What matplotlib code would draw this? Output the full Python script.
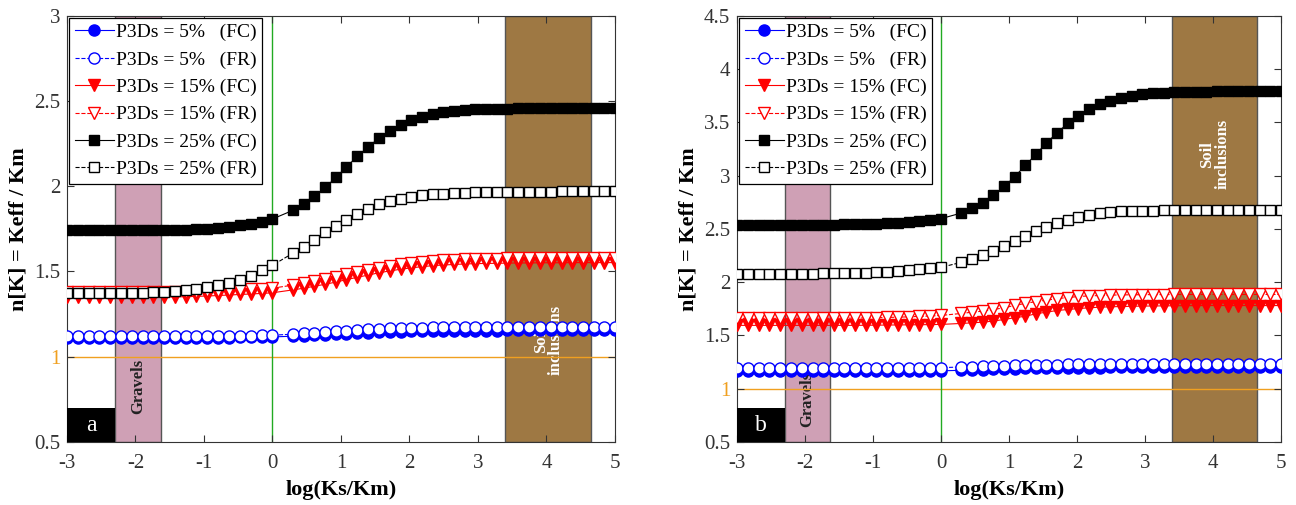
import numpy as np
import matplotlib
matplotlib.use('Agg')
import matplotlib.pyplot as plt
from matplotlib.patches import Rectangle

plt.rcParams['font.family'] = ['Liberation Serif', 'DejaVu Serif']
plt.rcParams['axes.unicode_minus'] = False

# data: x = log(Ks/Km), 20 points on [-3, 0] and 31 points on [log2, 5]
x_left = [-3.00, -2.84, -2.68, -2.53, -2.37, -2.21, -2.05, -1.89, -1.74, -1.58,
          -1.42, -1.26, -1.11, -0.95, -0.79, -0.63, -0.47, -0.32, -0.16, 0.00]
x_right = [0.30, 0.46, 0.61, 0.77, 0.93, 1.08, 1.24, 1.40, 1.55, 1.71, 1.87,
           2.02, 2.18, 2.34, 2.49, 2.65, 2.81, 2.96, 3.12, 3.28, 3.43, 3.59,
           3.75, 3.90, 4.06, 4.22, 4.37, 4.53, 4.69, 4.84, 5.00]
x = np.array(x_left + x_right)

# panel a
a_5_fc = ([1.112] * 16 + [1.113, 1.114, 1.115, 1.116]
          + [1.120, 1.123, 1.126, 1.129, 1.132, 1.135, 1.138, 1.141, 1.143, 1.145,
             1.147, 1.148, 1.149, 1.150, 1.151, 1.152, 1.152, 1.153, 1.153, 1.153,
             1.154, 1.154, 1.154, 1.154] + [1.155] * 7)
a_5_fr = ([1.122] * 16 + [1.123, 1.124, 1.125, 1.126]
          + [1.132, 1.136, 1.140, 1.145, 1.149, 1.153, 1.157, 1.160, 1.163, 1.166,
             1.168, 1.169, 1.171, 1.172, 1.173, 1.174, 1.174, 1.175, 1.175, 1.175,
             1.176, 1.176, 1.176, 1.176] + [1.177] * 7)
a_15_fc = ([1.350] * 10 + [1.351, 1.352, 1.354, 1.356, 1.359, 1.362, 1.365, 1.368, 1.371, 1.375]
           + [1.392, 1.402, 1.413, 1.425, 1.438, 1.452, 1.466, 1.479, 1.492, 1.503,
              1.513, 1.521, 1.528, 1.534, 1.538, 1.541, 1.544, 1.546, 1.547, 1.548,
              1.549, 1.550, 1.550, 1.551, 1.551, 1.551] + [1.552] * 5)
a_15_fr = ([1.378] * 10 + [1.379, 1.380, 1.382, 1.384, 1.386, 1.389, 1.392, 1.395, 1.398, 1.402]
           + [1.420, 1.430, 1.442, 1.455, 1.469, 1.483, 1.497, 1.511, 1.523, 1.534,
              1.543, 1.551, 1.557, 1.562, 1.566, 1.569, 1.572, 1.574, 1.575, 1.576,
              1.577, 1.578, 1.578, 1.579, 1.579, 1.579] + [1.580] * 5)
a_25_fc = ([1.745] * 12 + [1.747, 1.750, 1.755, 1.762, 1.770, 1.780, 1.792, 1.808]
           + [1.859, 1.894, 1.940, 1.994, 2.052, 2.113, 2.176, 2.232, 2.281, 2.325,
              2.360, 2.387, 2.407, 2.424, 2.436, 2.444, 2.448, 2.451, 2.453, 2.455,
              2.456, 2.457, 2.458, 2.458, 2.459, 2.459, 2.459] + [2.460] * 4)
a_25_fr = ([1.374] * 8 + [1.378, 1.381, 1.385, 1.391, 1.397, 1.409, 1.418, 1.432,
                          1.449, 1.475, 1.506, 1.536]
           + [1.608, 1.644, 1.687, 1.730, 1.769, 1.804, 1.839, 1.869, 1.896, 1.914,
              1.927, 1.937, 1.947, 1.953, 1.957, 1.961, 1.963, 1.965, 1.967, 1.967,
              1.968, 1.968, 1.969, 1.969, 1.969] + [1.970] * 6)

# panel b
b_5_fc = ([1.163] * 16 + [1.164, 1.165, 1.166, 1.167]
          + [1.172, 1.175, 1.178, 1.181, 1.184, 1.187, 1.189, 1.191, 1.193, 1.195,
             1.196, 1.197, 1.198, 1.198, 1.199, 1.199] + [1.200] * 15)
b_5_fr = ([1.193] * 16 + [1.194, 1.195, 1.196, 1.197]
          + [1.203, 1.206, 1.209, 1.212, 1.215, 1.218, 1.220, 1.222, 1.224, 1.226,
             1.227, 1.228, 1.229, 1.229, 1.230, 1.230] + [1.231] * 15)
b_15_fc = ([1.594] * 12 + [1.595, 1.596, 1.597, 1.598, 1.599, 1.600, 1.601, 1.603]
           + [1.612, 1.618, 1.624, 1.634, 1.650, 1.665, 1.680, 1.703, 1.718, 1.734,
              1.743, 1.752, 1.759, 1.765, 1.768, 1.771, 1.773, 1.775, 1.776, 1.777,
              1.778, 1.779, 1.779] + [1.780] * 8)
b_15_fr = ([1.660] * 10 + [1.661, 1.662, 1.664, 1.666, 1.668, 1.671, 1.674, 1.678, 1.682, 1.687]
           + [1.706, 1.718, 1.727, 1.743, 1.759, 1.781, 1.800, 1.818, 1.830, 1.846,
              1.855, 1.865, 1.871, 1.874, 1.878, 1.880, 1.881, 1.882, 1.883, 1.883]
           + [1.884] * 11)
b_25_fc = ([2.540] * 10 + [2.541, 2.542, 2.544, 2.547, 2.551, 2.556, 2.563, 2.571, 2.582, 2.596]
           + [2.649, 2.696, 2.745, 2.814, 2.898, 2.989, 3.095, 3.204, 3.307, 3.404,
              3.495, 3.563, 3.626, 3.673, 3.704, 3.729, 3.751, 3.764, 3.773, 3.779,
              3.782, 3.786, 3.788, 3.789] + [3.790] * 7)
b_25_fr = ([2.080] * 8 + [2.081, 2.082, 2.084, 2.086, 2.089, 2.093, 2.098, 2.104,
                          2.111, 2.119, 2.128, 2.139]
           + [2.186, 2.218, 2.252, 2.296, 2.340, 2.389, 2.434, 2.483, 2.521, 2.555,
              2.583, 2.614, 2.633, 2.645, 2.658, 2.664, 2.667, 2.670, 2.670, 2.673,
              2.673, 2.674, 2.674] + [2.675] * 8)

labels = ['P3Ds = 5%   (FC)', 'P3Ds = 5%   (FR)', 'P3Ds = 15% (FC)',
          'P3Ds = 15% (FR)', 'P3Ds = 25% (FC)', 'P3Ds = 25% (FR)']
gravels = (-2.3, -1.63)
soil = (3.4, 4.65)

panels = [
    ('a', [a_5_fc, a_5_fr, a_15_fc, a_15_fr, a_25_fc, a_25_fr], (0.5, 3.0),
     np.arange(0.5, 3.01, 0.5), 0.13, 0.24),
    ('b', [b_5_fc, b_5_fr, b_15_fc, b_15_fr, b_25_fc, b_25_fr], (0.5, 4.5),
     np.arange(0.5, 4.51, 0.5), 0.10, 0.675),
]

styles = [
    dict(color='blue', ls='-', marker='o', mfc='blue', ms=8),
    dict(color='blue', ls='--', marker='o', mfc='white', ms=8),
    dict(color='red', ls='-', marker='v', mfc='red', ms=8),
    dict(color='red', ls='--', marker='v', mfc='white', ms=8),
    dict(color='black', ls='-', marker='s', mfc='black', ms=6.5),
    dict(color='black', ls='--', marker='s', mfc='white', ms=6.5),
]

fig = plt.figure(figsize=(12.96, 5.05), dpi=100)
axes = [fig.add_axes([0.0517, 0.125, 0.4228, 0.8436]),
        fig.add_axes([0.5687, 0.125, 0.4198, 0.8436])]

for ax, (tag, series, ylim, yt, gy, sy) in zip(axes, panels):
    ax.axvspan(*gravels, facecolor='#CFA0B5', edgecolor='#555555', lw=1, zorder=0)
    ax.axvspan(*soil, facecolor='#9E7843', edgecolor='#555555', lw=1, zorder=0)
    ax.text(np.mean(gravels), gy, 'Gravels', rotation=90, ha='center', va='center',
            fontsize=12, fontweight='bold', color='#222222',
            transform=ax.get_xaxis_transform(), zorder=1)
    ax.text(np.mean(soil), sy, 'Soil\ninclusions', rotation=90, ha='center', va='center',
            fontsize=12, fontweight='bold', color='white', linespacing=0.9,
            transform=ax.get_xaxis_transform(), zorder=1)
    ax.axhline(1.0, color='#F0A020', lw=1, zorder=1)
    ax.axvline(0.0, color='#22AA22', lw=1, zorder=1)

    for y, st, lab in zip(series, styles, labels):
        ax.plot(x, y, lw=0.8, mew=1.0, mec=st['color'], label=lab, zorder=3,
                **st)

    ax.set_xlim(-3, 5)
    ax.set_ylim(*ylim)
    ax.set_xticks(range(-3, 6))
    ax.set_yticks(yt)
    ax.set_yticklabels([f'{v:g}' for v in yt])
    ax.tick_params(direction='in', top=True, right=True, labelsize=15,
                   length=5, color='#333333', labelcolor='#333333')
    ax.tick_params(axis='x', pad=9)
    ax.tick_params(axis='y', pad=5)
    for t in ax.get_yticklabels():
        if t.get_text() == '1':
            t.set_color('#F0A020')
    for s in ax.spines.values():
        s.set_color('#333333')
    ax.set_xlabel('log(Ks/Km)', fontsize=16, fontweight='bold', labelpad=5)
    ax.set_ylabel('n[K] = Keff / Km', fontsize=16, fontweight='bold', labelpad=4)

    # panel tag box
    ax.add_patch(Rectangle((0, 0), 0.088, 0.08, transform=ax.transAxes,
                           facecolor='black', edgecolor='none', zorder=5))
    ax.text(0.044, 0.038, tag, transform=ax.transAxes, fontsize=17, color='white',
            ha='center', va='center', zorder=6)

    leg = ax.legend(loc='upper left', fontsize=14, frameon=True, fancybox=False,
                    edgecolor='black', framealpha=1, borderaxespad=0.1,
                    handlelength=2.0, handletextpad=0.1, labelspacing=0.5,
                    borderpad=0.3)
    leg.get_frame().set_linewidth(0.9)

fig.savefig('out.png', dpi=100)
